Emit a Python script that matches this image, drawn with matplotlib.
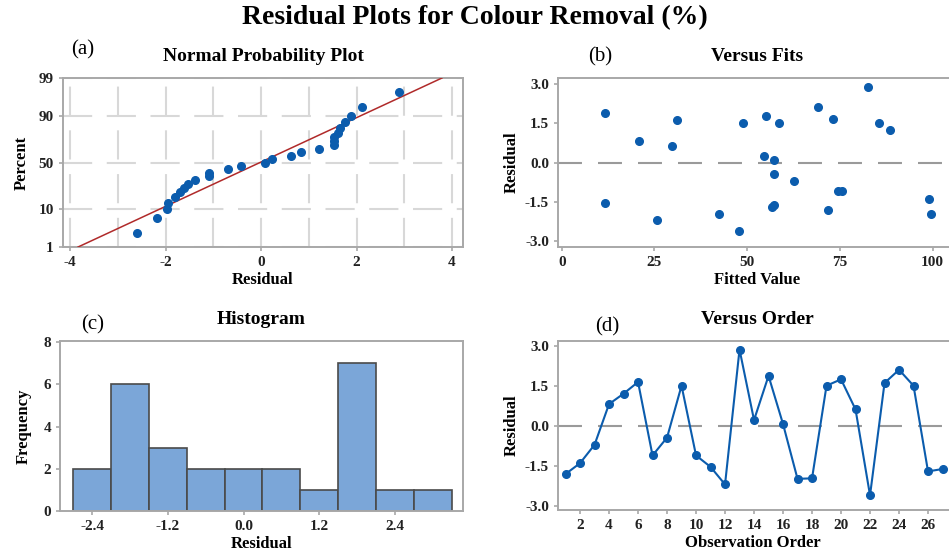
import numpy as np
import matplotlib.pyplot as plt
from matplotlib.ticker import FixedLocator

#### data ############################
order = np.arange(1, 28)
residuals = np.array([-1.80, -1.39, -0.70, 0.83, 1.22, 1.66, -1.10, -0.43, 1.52, -1.10,
                      -1.53, -2.19, 2.88, 0.23, 1.89, 0.08, -1.98, -1.96, 1.52, 1.76,
                      0.63, -2.60, 1.62, 2.12, 1.52, -1.70, -1.61])
fitted = np.array([71.9, 99.1, 62.7, 20.8, 88.5, 73.2, 74.5, 57.1, 49.0, 75.5,
                   11.8, 25.7, 82.5, 54.4, 11.8, 57.1, 42.3, 99.5, 58.7, 55.1,
                   29.7, 47.7, 31.0, 69.0, 85.4, 56.6, 57.3])
hist_bins = [-2.7, -2.1, -1.5, -0.9, -0.3, 0.3, 0.9, 1.5, 2.1, 2.7, 3.3]
pct_ticks = [1, 10, 50, 90, 99]
resid_ticks = [3.0, 1.5, 0.0, -1.5, -3.0]

#### style #####
SERIF = 'Liberation Serif'
BLUE = '#0b5cad'
RED = '#b02a2a'
SPINE = '#a8a8a8'
W, H = 949, 550
plt.rcParams['font.family'] = SERIF
plt.rcParams['axes.unicode_minus'] = False


def ax_at(fig, left, top, right, bottom):
    # pixel box -> figure coords
    return fig.add_axes([left / W, 1 - bottom / H, (right - left) / W, (bottom - top) / H])


def style_ax(ax):
    for s in ax.spines.values():
        s.set_color(SPINE)
        s.set_linewidth(1.4)
    ax.tick_params(colors=SPINE, labelcolor='#222222', length=3, width=1.2, labelsize=11)
    for lbl in ax.get_xticklabels() + ax.get_yticklabels():
        lbl.set_fontweight('bold')


def zero_line(ax):
    ax.axhline(0, color='#9a9a9a', lw=1.5, dashes=(11.5, 7.7), zorder=1)


def inv_norm(p):
    # rational approximation of the normal quantile (Acklam)
    a = [-3.969683028665376e+01, 2.209460984245205e+02, -2.759285104469687e+02,
         1.383577518672690e+02, -3.066479806614716e+01, 2.506628277459239e+00]
    b = [-5.447609879822406e+01, 1.615858368580409e+02, -1.556989798598866e+02,
         6.680131188771972e+01, -1.328068155288572e+01]
    c = [-7.784894002430293e-03, -3.223964580411365e-01, -2.400758277161838e+00,
         -2.549732539343734e+00, 4.374664141464968e+00, 2.938163982698783e+00]
    d = [7.784695709041462e-03, 3.224671290700398e-01, 2.445134137142996e+00,
         3.754408661907416e+00]
    p = np.atleast_1d(np.asarray(p, dtype=float))
    out = np.empty_like(p)
    lo = p < 0.02425
    hi = p > 1 - 0.02425
    mid = ~(lo | hi)
    q = np.sqrt(-2 * np.log(p[lo]))
    out[lo] = (((((c[0]*q+c[1])*q+c[2])*q+c[3])*q+c[4])*q+c[5]) / ((((d[0]*q+d[1])*q+d[2])*q+d[3])*q+1)
    q = np.sqrt(-2 * np.log(1 - p[hi]))
    out[hi] = -(((((c[0]*q+c[1])*q+c[2])*q+c[3])*q+c[4])*q+c[5]) / ((((d[0]*q+d[1])*q+d[2])*q+d[3])*q+1)
    q = p[mid] - 0.5
    r = q * q
    out[mid] = (((((a[0]*r+a[1])*r+a[2])*r+a[3])*r+a[4])*r+a[5])*q / (((((b[0]*r+b[1])*r+b[2])*r+b[3])*r+b[4])*r+1)
    return out


fig = plt.figure(figsize=(W / 100, H / 100), dpi=100)
fig.text(0.5, 1 - 18 / H, 'Residual Plots for Colour Removal (%)', ha='center', va='center',
         fontsize=20, fontweight='bold')

title_kw = dict(fontsize=14, fontweight='bold', pad=12)
lab_kw = dict(fontsize=12, fontweight='bold')

### (a) normal probability plot
ax = ax_at(fig, 63, 78, 463, 247)
n = len(residuals)
srt = np.sort(residuals)
z = inv_norm((np.arange(1, n + 1) - 0.3) / (n + 0.4))
mu, sd = residuals.mean(), residuals.std(ddof=1)
zl = inv_norm(np.array([0.01, 0.99]))
ax.plot(mu + sd * zl, zl, color=RED, lw=1.1, zorder=3)
ax.plot(srt, z, 'o', color=BLUE, ms=5.5, zorder=4)
ax.set_xlim(-4.15, 4.23)
ax.set_ylim(zl[0], zl[1])
ax.set_xticks([-4, -2, 0, 2, 4])
ax.xaxis.set_minor_locator(FixedLocator([-3, -1, 1, 3]))
ax.tick_params(which='minor', length=0)
ax.set_yticks(inv_norm(np.array(pct_ticks) / 100))
ax.set_yticklabels([str(p) for p in pct_ticks])
ax.grid(True, which='both', color='#d8d8d8', lw=1.5, dashes=(14, 7))
ax.set_axisbelow(True)
ax.set_title('Normal Probability Plot', **title_kw)
ax.set_xlabel('Residual', labelpad=2, **lab_kw)
ax.set_ylabel('Percent', labelpad=6, **lab_kw)
style_ax(ax)
fig.text(83 / W, 1 - 50 / H, '(a)', ha='center', va='center', fontsize=15)

### (b) versus fits
ax = ax_at(fig, 558, 78, 975, 247)
zero_line(ax)
ax.plot(fitted, residuals, 'o', color=BLUE, ms=5.5, zorder=3)
ax.set_xlim(-1, 111.4)
ax.set_ylim(-3.22, 3.22)
ax.set_xticks([0, 25, 50, 75, 100])
ax.set_yticks(resid_ticks)
ax.set_yticklabels([f'{v:.1f}' for v in resid_ticks])
ax.set_title('Versus Fits', x=(757 - 558) / (975 - 558), **title_kw)
ax.set_xlabel('Fitted Value', x=(757 - 558) / (975 - 558), labelpad=2, **lab_kw)
ax.set_ylabel('Residual', labelpad=4, **lab_kw)
style_ax(ax)
fig.text(600 / W, 1 - 57 / H, '(b)', ha='center', va='center', fontsize=15)

### (c) histogram
ax = ax_at(fig, 60, 341, 463, 511)
ax.hist(residuals, bins=hist_bins, color='#7ba6d8', edgecolor='#4a4a4a', linewidth=1.2)
ax.set_xlim(-2.91, 3.48)
ax.set_ylim(0, 8.05)
ax.set_xticks([-2.4, -1.2, 0.0, 1.2, 2.4])
ax.set_xticklabels(['-2.4', '-1.2', '0.0', '1.2', '2.4'])
ax.set_yticks([0, 2, 4, 6, 8])
ax.set_title('Histogram', **title_kw)
ax.set_xlabel('Residual', labelpad=2, **lab_kw)
ax.set_ylabel('Frequency', labelpad=8, **lab_kw)
style_ax(ax)
fig.text(93 / W, 1 - 325 / H, '(c)', ha='center', va='center', fontsize=15)

### (d) versus order
ax = ax_at(fig, 558, 341, 975, 510)
zero_line(ax)
ax.plot(order, residuals, '-o', color=BLUE, lw=1.5, ms=5.5, zorder=3)
ax.set_xlim(0.48, 29.24)
ax.set_ylim(-3.15, 3.2)
ax.set_xticks(np.arange(2, 28, 2))
ax.set_yticks(resid_ticks)
ax.set_yticklabels([f'{v:.1f}' for v in resid_ticks])
ax.set_title('Versus Order', x=(757 - 558) / (975 - 558), **title_kw)
ax.set_xlabel('Observation Order', x=(753 - 558) / (975 - 558), labelpad=2, **lab_kw)
ax.set_ylabel('Residual', labelpad=4, **lab_kw)
style_ax(ax)
fig.text(607 / W, 1 - 327 / H, '(d)', ha='center', va='center', fontsize=15)

fig.savefig('out.png', dpi=100)
